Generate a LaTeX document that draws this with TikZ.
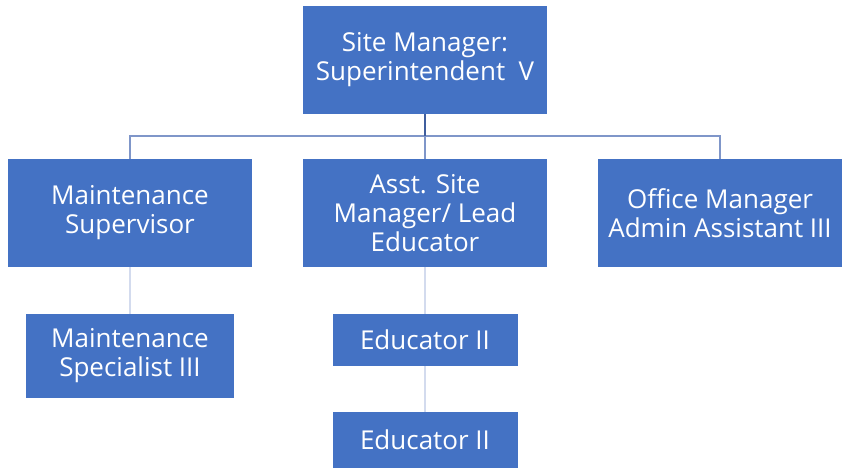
\documentclass[tikz,border=0pt]{standalone}
\usepackage{fontspec}
\setmainfont{Open Sans}
\definecolor{boxblue}{HTML}{4472C4}
\definecolor{topline}{HTML}{3F5E9E}
\definecolor{barline}{HTML}{7F96C9}
\definecolor{subline}{HTML}{D3DBEE}

\def\colsep{295pt}

\begin{document}
\begin{tikzpicture}[x=1pt,y=1pt]
			    \tikzstyle{post} = [rectangle, fill=boxblue, text=white, align=center, inner sep=0pt, font=\fontsize{26}{29}\selectfont]
			    \tikzstyle{bigpost} = [post, minimum width=244pt, minimum height=108pt]
			    \tikzstyle{toplink} = [draw=topline, line width=1.5pt]
			    \tikzstyle{barlink} = [draw=barline, line width=1.5pt]
			    \tikzstyle{sublink} = [draw=subline, line width=2pt]

			    \useasboundingbox (0,0) rectangle (843,-468);

			    %%% DRAW THE NODES
			    \node[bigpost] (SM) at (425,-60) {Site Manager:\\Superintendent\ \ V};

			    \node[bigpost] (MS) at (425-\colsep,-213) {Maintenance\\Supervisor};
			    \node[bigpost] (AS) at (425,-213) {Asst. Site\\Manager/ Lead\\Educator};
			    \node[bigpost] (OM) at (425+\colsep,-213) {Office Manager\\Admin Assistant III};

			    \node[post, minimum width=208pt, minimum height=84pt] (SP) at (130,-356) {Maintenance\\Specialist III};
			    \node[post, minimum width=185pt, minimum height=52pt] (E-1) at (425,-340) {Educator II};
			    \node[post, minimum width=185pt, minimum height=56pt] (E-2) at (425,-440) {Educator II};

			    %%% DRAW THE PATHS
			    \coordinate (bar) at (425,-136);
			    \path[barlink] (MS.north) |- (bar) -| (OM.north);
			    \path[barlink] (bar) -- (AS.north);
			    \path[toplink] (SM) -- (bar);

			    \path[sublink] (MS) -- (SP);
			    \path[sublink] (AS) -- (E-1);
			    \path[sublink] (E-1) -- (E-2);

\end{tikzpicture}
\end{document}
